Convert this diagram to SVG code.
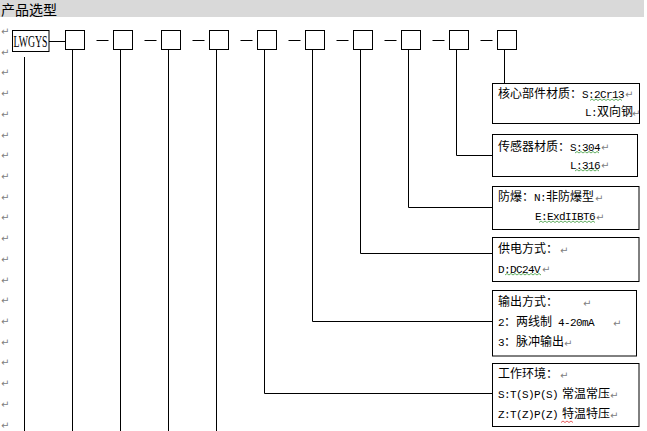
<svg xmlns="http://www.w3.org/2000/svg" width="647" height="431" viewBox="0 0 647 431">
<style>
.b{fill:#fff;stroke:#000;stroke-width:1}
.c{fill:none;stroke:#000;stroke-width:1}
.t{font-family:"Noto Sans CJK SC","Noto Sans CJK JP",sans-serif;font-size:12px;fill:#000}
.m{font-family:"Liberation Mono",monospace;font-size:11px;letter-spacing:-0.6px}
.p{font-family:"DejaVu Sans",sans-serif;font-size:10px;fill:#808080}
.wg{fill:none;stroke:#3a9a3a;stroke-width:0.8}
.wr{fill:none;stroke:#e03030;stroke-width:0.8}
</style>
<g id="header">
<rect x="0" y="0" width="644" height="17" fill="#d9d9d9"/>
<text x="1" y="15" style="font-family:'Noto Sans CJK SC','Noto Sans CJK JP',sans-serif;font-size:14px;fill:#000">产品选型</text>
</g>
<g id="paragraph-marks" class="p">
<text x="1" y="35">↵</text><text x="1" y="55.7">↵</text><text x="1" y="76.4">↵</text><text x="1" y="97.1">↵</text>
<text x="1" y="117.8">↵</text><text x="1" y="138.5">↵</text><text x="1" y="159.2">↵</text><text x="1" y="180">↵</text>
<text x="1" y="200.7">↵</text><text x="1" y="221.4">↵</text><text x="1" y="242.1">↵</text><text x="1" y="262.8">↵</text>
<text x="1" y="283.5">↵</text><text x="1" y="304.2">↵</text><text x="1" y="325">↵</text><text x="1" y="345.7">↵</text>
<text x="1" y="366.4">↵</text><text x="1" y="387.1">↵</text><text x="1" y="407.8">↵</text><text x="1" y="428.5">↵</text>
</g>
<g id="connectors" class="c">
<path d="M49,41.5H65"/>
<path d="M96.5,40.5H108.5M144.5,40.5H156.5M192.5,40.5H204.5M240.5,40.5H252.5M288.5,40.5H300.5M336.5,40.5H348.5M384.5,40.5H396.5M432.5,40.5H444.5M480.5,40.5H492.5"/>
<path d="M24.5,57V431"/>
<path d="M72.5,49.5V431M120.5,49.5V431M168.5,49.5V431M216.5,49.5V431"/>
<path d="M264.5,49.5V393.5H492.5"/>
<path d="M312.5,49.5V321.5H492.5"/>
<path d="M360.5,49.5V253.5H492.5"/>
<path d="M408.5,49.5V207.5H492.5"/>
<path d="M456.5,49.5V155.5H492.5"/>
<path d="M504.5,49.5V83.5"/>
</g>
<g id="node-LWGYS">
<rect class="b" x="12.5" y="30.5" width="36.5" height="21"/>
<text x="13.5" y="46.5" textLength="34" lengthAdjust="spacingAndGlyphs" style="font-family:'Liberation Serif',serif;font-size:17px;fill:#000">LWGYS</text>
</g>
<g id="node-code-boxes">
<rect id="box1" class="b" x="65.5" y="30.5" width="19" height="19"/>
<rect id="box2" class="b" x="113.5" y="30.5" width="19" height="19"/>
<rect id="box3" class="b" x="161.5" y="30.5" width="19" height="19"/>
<rect id="box4" class="b" x="209.5" y="30.5" width="19" height="19"/>
<rect id="box5" class="b" x="257.5" y="30.5" width="19" height="19"/>
<rect id="box6" class="b" x="305.5" y="30.5" width="19" height="19"/>
<rect id="box7" class="b" x="353.5" y="30.5" width="19" height="19"/>
<rect id="box8" class="b" x="401.5" y="30.5" width="19" height="19"/>
<rect id="box9" class="b" x="449.5" y="30.5" width="19" height="19"/>
<rect id="box10" class="b" x="497.5" y="30.5" width="19" height="19"/>
</g>
<g id="node-core-material">
<rect class="b" x="492.5" y="83.5" width="147" height="40"/>
<text class="t" x="498" y="97.5">核心部件材质：<tspan class="m">S:2Cr13</tspan></text>
<text class="p" x="625" y="98">↵</text>
<text class="t" x="585" y="116"><tspan class="m">L:</tspan>双向钢</text>
<text class="p" x="632" y="116.5">↵</text>
<path class="wg" d="M590,100.5l2,-1.5l2,1.5l2,-1.5l2,1.5l2,-1.5l2,1.5l2,-1.5l2,1.5l2,-1.5l2,1.5l2,-1.5l2,1.5l2,-1.5l2,1.5l2,-1.5l2,1.5"/>
</g>
<g id="node-sensor-material">
<rect class="b" x="492.5" y="134.5" width="145" height="42"/>
<text class="t" x="498" y="150.5">传感器材质：<tspan class="m">S:304</tspan></text>
<text class="p" x="601" y="151">↵</text>
<text class="t" x="570" y="168.5"><tspan class="m">L:316</tspan></text>
<text class="p" x="601" y="169">↵</text>
<path class="wg" d="M575,153l2,-1.5l2,1.5l2,-1.5l2,1.5l2,-1.5l2,1.5l2,-1.5l2,1.5l2,-1.5l2,1.5l2,-1.5l2,1.5"/>
<path class="wg" d="M575,171l2,-1.5l2,1.5l2,-1.5l2,1.5l2,-1.5l2,1.5l2,-1.5l2,1.5l2,-1.5l2,1.5l2,-1.5l2,1.5"/>
</g>
<g id="node-explosion-proof">
<rect class="b" x="492.5" y="186.5" width="146.5" height="43"/>
<text class="t" x="498" y="201">防爆：<tspan class="m">N:</tspan>非防爆型</text>
<text class="p" x="595" y="201.5">↵</text>
<text class="t" x="535" y="220"><tspan class="m">E:ExdIIBT6</tspan></text>
<text class="p" x="596" y="220.5">↵</text>
<path class="wg" d="M539,222.5l2,-1.5l2,1.5l2,-1.5l2,1.5l2,-1.5l2,1.5l2,-1.5l2,1.5l2,-1.5l2,1.5l2,-1.5l2,1.5l2,-1.5l2,1.5l2,-1.5l2,1.5l2,-1.5l2,1.5l2,-1.5l2,1.5l2,-1.5l2,1.5l2,-1.5l2,1.5l2,-1.5l2,1.5l2,-1.5l2,1.5"/>
</g>
<g id="node-power-supply">
<rect class="b" x="492.5" y="237.5" width="146.5" height="44"/>
<text class="t" x="498" y="253">供电方式：</text>
<text class="p" x="560" y="253.5">↵</text>
<text class="t" x="498" y="272.5"><tspan class="m">D:DC24V</tspan></text>
<text class="p" x="542" y="273">↵</text>
<path class="wg" d="M505,275l2,-1.5l2,1.5l2,-1.5l2,1.5l2,-1.5l2,1.5l2,-1.5l2,1.5l2,-1.5l2,1.5l2,-1.5l2,1.5l2,-1.5l2,1.5l2,-1.5l2,1.5l2,-1.5l2,1.5"/>
</g>
<g id="node-output-mode">
<rect class="b" x="492.5" y="290.5" width="144" height="65.5"/>
<text class="t" x="498" y="306">输出方式：</text>
<text class="p" x="583" y="306.5">↵</text>
<text class="t" x="498" y="326"><tspan class="m">2</tspan>：两线制<tspan class="m"> 4-20mA</tspan></text>
<text class="p" x="613" y="326.5">↵</text>
<text class="t" x="498" y="346"><tspan class="m">3</tspan>：脉冲输出</text>
<text class="p" x="564" y="346.5">↵</text>
</g>
<g id="node-working-environment">
<rect class="b" x="492.5" y="363.5" width="146.5" height="63"/>
<text class="t" x="498" y="378">工作环境：</text>
<text class="p" x="560" y="378.5">↵</text>
<text class="t" x="498" y="398"><tspan class="m">S:T(S)P(S)</tspan><tspan x="562">常温常压</tspan></text>
<text class="p" x="610" y="398.5">↵</text>
<text class="t" x="498" y="418"><tspan class="m">Z:T(Z)P(Z)</tspan><tspan x="562">特温特压</tspan></text>
<text class="p" x="610" y="418.5">↵</text>
<path class="wr" d="M561,422.5l2,-1.5l2,1.5l2,-1.5l2,1.5l2,-1.5l2,1.5"/>
</g>
</svg>
